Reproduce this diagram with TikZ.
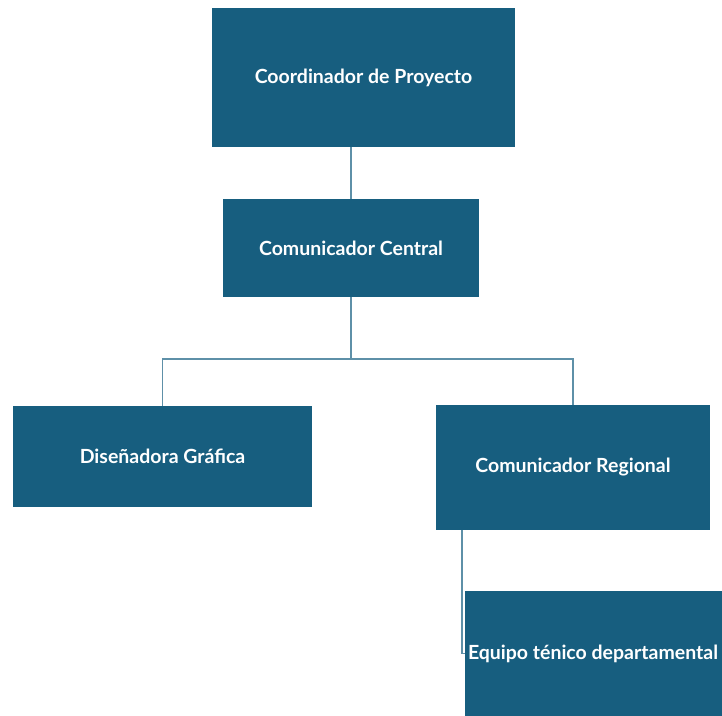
\documentclass[tikz,border=0pt]{standalone}
\usepackage{fontspec}
\setmainfont{Lato}
\usetikzlibrary{positioning}
\definecolor{boxblue}{HTML}{175E7F}
\definecolor{linkblue}{HTML}{5E90A8}

\begin{document}
\begin{tikzpicture}[x=1pt,y=-1pt,
  rolebox/.style={fill=boxblue,text=white,inner sep=0pt,
    font=\bfseries\fontsize{19.5}{23}\selectfont},
  link/.style={draw=linkblue,line width=1.1pt}]
  \useasboundingbox (0,0) rectangle (722,715);
  \clip (0,0) rectangle (722,715);
  % Top level
  \node[rolebox,minimum width=303pt,minimum height=139pt] (coord) at (363.5,77.5) {Coordinador de Proyecto};
  \node[rolebox,minimum width=256pt,minimum height=98pt] (central) at (351,248) {Comunicador Central};
  % Second level
  \node[rolebox,minimum width=299pt,minimum height=101pt] (disen) at (162.5,456.5) {Diseñadora Gráfica};
  \node[rolebox,minimum width=274pt,minimum height=125pt] (regional) at (573,467.5) {Comunicador Regional};
  % Cut at the page edge
  \node[rolebox,minimum height=125pt,text width=268pt,inner xsep=3pt,align=flush left] (equipo) at (602,653.5) {Equipo ténico departamental};
  % Connectors
  \coordinate (split) at (351,359);
  \draw[link] (central.north |- coord.south) -- (central.north);
  \draw[link] (central.south) -- (split);
  \draw[link] (disen.north) |- (split) -| (regional.north);
  \draw[link] ([xshift=-111pt]regional.south) |- (equipo.west);
\end{tikzpicture}
\end{document}
